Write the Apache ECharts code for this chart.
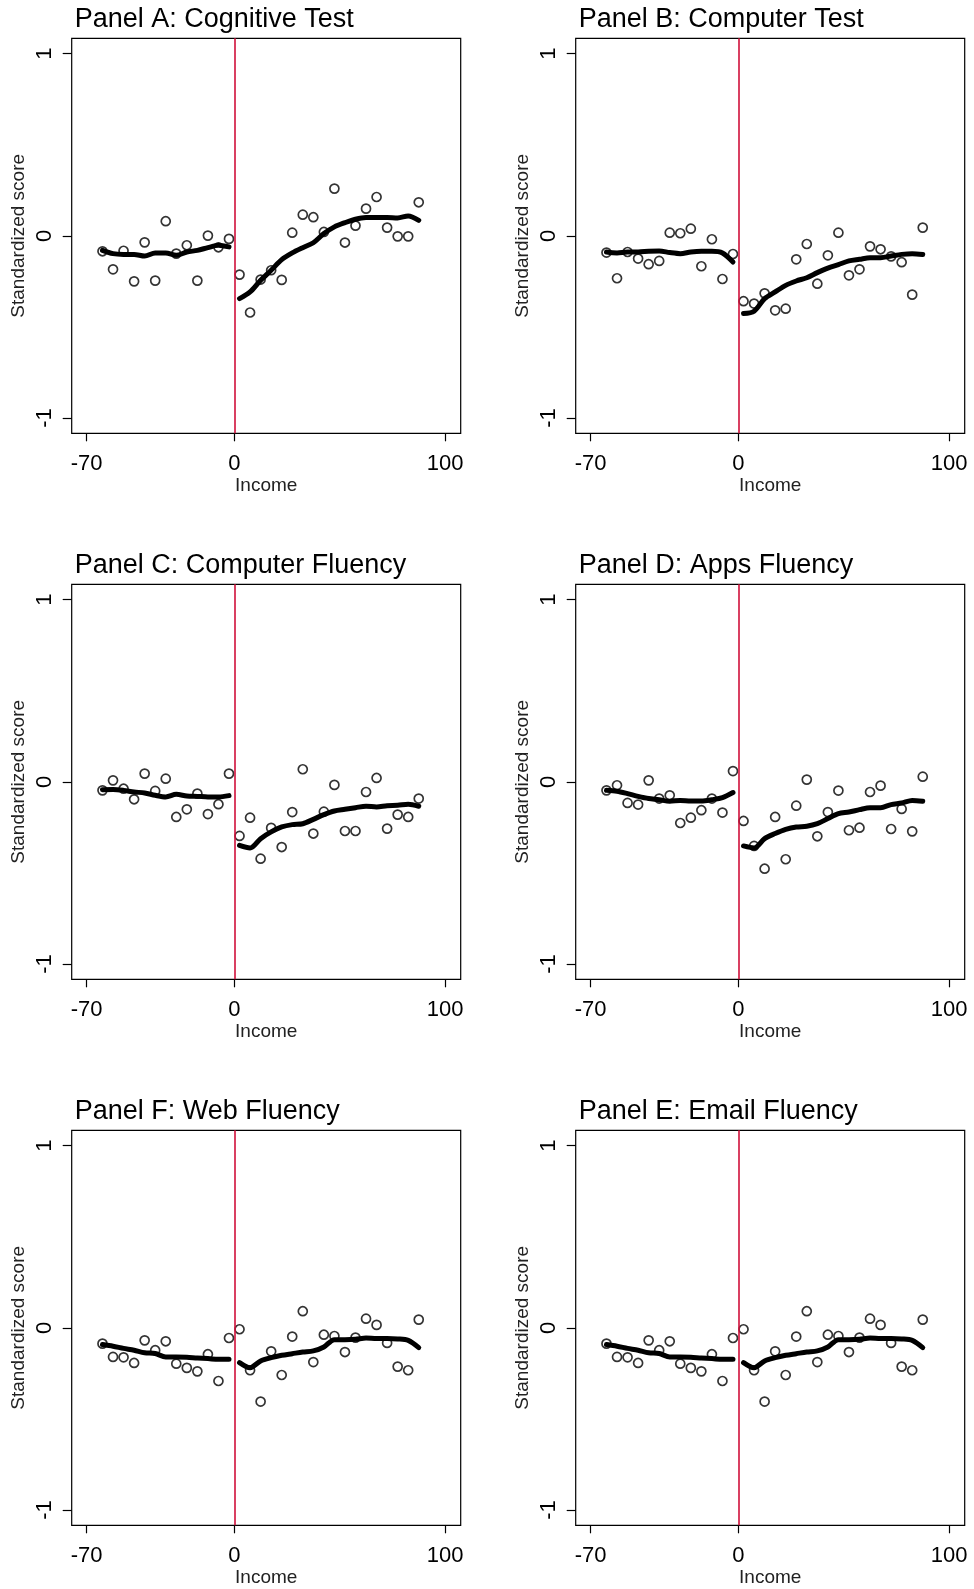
<!DOCTYPE html>
<html><head><meta charset="utf-8">
<script src="https://cdn.jsdelivr.net/npm/echarts@6/dist/echarts.min.js"></script>
<style>html,body{margin:0;padding:0;background:#fff}#c{width:974px;height:1589px}</style>
</head><body><div id="c"></div>
<script>
// ---- data ----
const binsLeft = [-62.5,-57.5,-52.5,-47.5,-42.5,-37.5,-32.5,-27.5,-22.5,-17.5,-12.5,-7.5,-2.5];
const binsRight = [2.5,7.5,12.5,17.5,22.5,27.5,32.5,37.5,42.5,47.5,52.5,57.5,62.5,67.5,72.5,77.5,82.5,87.5];
const xTicks = [-70, 0, 100];
const yTicks = [-1, 0, 1];
const panelTitles = ['Panel A: Cognitive Test','Panel B: Computer Test','Panel C: Computer Fluency','Panel D: Apps Fluency','Panel F: Web Fluency','Panel E: Email Fluency'];
const xName = 'Income';
const yName = 'Standardized score';

// Panel A
const cogDotsL = [-0.085,-0.184,-0.082,-0.250,-0.036,-0.246,0.080,-0.098,-0.052,-0.246,0.001,-0.063,-0.017];
const cogDotsR = [-0.213,-0.421,-0.240,-0.189,-0.242,0.017,0.116,0.102,0.021,0.259,-0.037,0.056,0.149,0.213,0.045,-0.003,-0.003,0.184];
const cogFitL = [-0.080,-0.098,-0.102,-0.102,-0.111,-0.094,-0.094,-0.107,-0.089,-0.080,-0.065,-0.052,-0.061];
const cogFitR = [-0.345,-0.308,-0.244,-0.189,-0.131,-0.094,-0.065,-0.038,0.012,0.049,0.072,0.091,0.100,0.100,0.100,0.098,0.109,0.085];
// Panel B
const compDotsL = [-0.092,-0.233,-0.089,-0.125,-0.156,-0.138,0.017,0.014,0.039,-0.167,-0.019,-0.237,-0.100];
const compDotsR = [-0.359,-0.372,-0.316,-0.409,-0.400,-0.129,-0.045,-0.263,-0.107,0.017,-0.217,-0.184,-0.058,-0.074,-0.113,-0.145,-0.323,0.045];
const compFitL = [-0.089,-0.094,-0.089,-0.089,-0.085,-0.083,-0.092,-0.098,-0.089,-0.085,-0.085,-0.094,-0.144];
const compFitR = [-0.427,-0.414,-0.345,-0.308,-0.272,-0.248,-0.230,-0.202,-0.177,-0.158,-0.138,-0.129,-0.120,-0.120,-0.111,-0.102,-0.098,-0.103];
// Panel C
const cfDotsL = [-0.047,0.008,-0.038,-0.096,0.045,-0.050,0.017,-0.193,-0.151,-0.065,-0.177,-0.123,0.045];
const cfDotsR = [-0.297,-0.197,-0.422,-0.253,-0.358,-0.166,0.069,-0.284,-0.164,-0.017,-0.270,-0.270,-0.056,0.021,-0.257,-0.180,-0.193,-0.092];
const cfFitL = [-0.043,-0.042,-0.047,-0.056,-0.061,-0.074,-0.083,-0.069,-0.078,-0.080,-0.083,-0.083,-0.076];
const cfFitR = [-0.349,-0.363,-0.312,-0.275,-0.248,-0.235,-0.230,-0.206,-0.180,-0.160,-0.151,-0.142,-0.134,-0.138,-0.131,-0.129,-0.123,-0.134];
// Panel D
const appDotsL = [-0.047,-0.019,-0.116,-0.125,0.008,-0.092,-0.074,-0.226,-0.197,-0.156,-0.092,-0.169,0.059];
const appDotsR = [-0.215,-0.352,-0.477,-0.193,-0.425,-0.131,0.012,-0.299,-0.166,-0.048,-0.266,-0.252,-0.056,-0.021,-0.259,-0.149,-0.272,0.028];
const appFitL = [-0.047,-0.052,-0.065,-0.080,-0.092,-0.098,-0.107,-0.102,-0.105,-0.105,-0.098,-0.087,-0.059];
const appFitR = [-0.352,-0.363,-0.312,-0.284,-0.261,-0.248,-0.244,-0.230,-0.202,-0.175,-0.166,-0.153,-0.142,-0.142,-0.125,-0.116,-0.102,-0.107];
// Panel F
const webDotsL = [-0.087,-0.160,-0.162,-0.193,-0.069,-0.123,-0.074,-0.197,-0.220,-0.239,-0.145,-0.292,-0.056];
const webDotsR = [-0.008,-0.233,-0.405,-0.129,-0.259,-0.048,0.091,-0.188,-0.038,-0.045,-0.133,-0.054,0.050,0.016,-0.083,-0.213,-0.233,0.045];
const webFitL = [-0.092,-0.101,-0.113,-0.123,-0.137,-0.141,-0.160,-0.160,-0.162,-0.166,-0.169,-0.173,-0.173];
const webFitR = [-0.191,-0.219,-0.182,-0.164,-0.151,-0.142,-0.133,-0.127,-0.105,-0.065,-0.065,-0.063,-0.056,-0.059,-0.059,-0.061,-0.069,-0.109];
// Panel E
const mailDotsL = [-0.087,-0.160,-0.162,-0.193,-0.069,-0.123,-0.074,-0.197,-0.220,-0.239,-0.145,-0.292,-0.056];
const mailDotsR = [-0.008,-0.233,-0.405,-0.129,-0.259,-0.048,0.091,-0.188,-0.038,-0.045,-0.133,-0.054,0.050,0.016,-0.083,-0.213,-0.233,0.045];
const mailFitL = [-0.092,-0.101,-0.113,-0.123,-0.137,-0.141,-0.160,-0.160,-0.162,-0.166,-0.169,-0.173,-0.173];
const mailFitR = [-0.191,-0.219,-0.182,-0.164,-0.151,-0.142,-0.133,-0.127,-0.105,-0.065,-0.065,-0.063,-0.056,-0.059,-0.059,-0.061,-0.069,-0.109];

// ---- layout & style ----
const FONT = '"Liberation Sans", Arial, Helvetica, sans-serif';
const panels = [
  [cogDotsL, cogDotsR, cogFitL, cogFitR],
  [compDotsL, compDotsR, compFitL, compFitR],
  [cfDotsL, cfDotsR, cfFitL, cfFitR],
  [appDotsL, appDotsR, appFitL, appFitR],
  [webDotsL, webDotsR, webFitL, webFitR],
  [mailDotsL, mailDotsR, mailFitL, mailFitR]
];
const colLeft = [71.7, 575.7];
const rowTop = [38.3, 584.3, 1130.3];
const W = 389, H = 395;
const zip = (xs, ys) => xs.map((x, i) => [x, ys[i]]);

const option = { animation: false, backgroundColor: '#fff', title: [], grid: [], xAxis: [], yAxis: [], series: [] };

panels.forEach((p, k) => {
  const col = k % 2, row = Math.floor(k / 2);
  const left = colLeft[col], top = rowTop[row];
  option.title.push({
    text: panelTitles[k], left: left + 3, top: top - 32, padding: 0,
    textStyle: { fontSize: 27, fontWeight: 'normal', color: '#000', fontFamily: FONT }
  });
  option.grid.push({ left: left, top: top, width: W, height: H, show: true, borderColor: '#000', borderWidth: 1.2, backgroundColor: 'rgba(0,0,0,0)', containLabel: false, outerBoundsMode: 'none' });
  option.xAxis.push({
    gridIndex: k, type: 'value', min: -77.1, max: 107.4, position: 'bottom',
    splitLine: { show: false }, axisLine: { show: false, onZero: false },
    axisTick: { show: true, length: 8, inside: false, customValues: xTicks, lineStyle: { color: '#000', width: 1.2 } },
    axisLabel: { customValues: xTicks, fontSize: 22, color: '#000', margin: 20, fontFamily: FONT },
    name: xName, nameLocation: 'middle', nameGap: 51,
    nameTextStyle: { fontSize: 19, color: '#222', fontFamily: FONT, verticalAlign: 'middle' }
  });
  option.yAxis.push({
    gridIndex: k, type: 'value', min: -1.084, max: 1.084, position: 'left',
    splitLine: { show: false }, axisLine: { show: false, onZero: false },
    axisTick: { show: true, length: 9, inside: false, customValues: yTicks, lineStyle: { color: '#000', width: 1.2 } },
    axisLabel: { customValues: yTicks, fontSize: 22, color: '#000', margin: 16, rotate: 90, fontFamily: FONT },
    name: yName, nameLocation: 'middle', nameGap: 53,
    nameTextStyle: { fontSize: 19, color: '#222', fontFamily: FONT, verticalAlign: 'middle' }
  });
  option.series.push({
    type: 'scatter', xAxisIndex: k, yAxisIndex: k, z: 2,
    data: zip(binsLeft, p[0]).concat(zip(binsRight, p[1])),
    symbol: 'circle', symbolSize: 9,
    itemStyle: { color: 'rgba(255,255,255,0)', borderColor: '#000', borderWidth: 1.7 },
    markLine: {
      silent: true, symbol: ['none', 'none'], label: { show: false },
      lineStyle: { color: '#d0103a', width: 1.6, type: 'solid' },
      data: [{ xAxis: 0 }]
    }
  });
  [[binsLeft, p[2]], [binsRight, p[3]]].forEach(([xs, ys]) => {
    option.series.push({
      type: 'line', xAxisIndex: k, yAxisIndex: k, z: 3,
      data: zip(xs, ys), showSymbol: false, smooth: 0.3,
      lineStyle: { color: '#000', width: 5, cap: 'round', join: 'round' }
    });
  });
});

const chart = echarts.init(document.getElementById('c'), null, { renderer: 'canvas' });
chart.setOption(option);
</script>
</body></html>
